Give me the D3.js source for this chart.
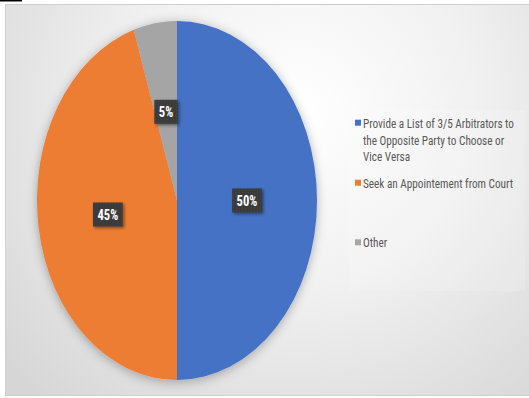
<!DOCTYPE html>
<html>
<head>
<meta charset="utf-8">
<script src="https://cdn.jsdelivr.net/npm/d3@7"></script>
<style>
  html, body { margin: 0; padding: 0; background: #ffffff; }
  svg { display: block; }
</style>
</head>
<body>
<script>
// Survey answers: how the arbitrator gets appointed
const categories = [
  "Provide a List of 3/5 Arbitrators to the Opposite Party to Choose or Vice Versa",
  "Seek an Appointement from Court",
  "Other"
];
const shares = [50, 45, 5];
const legendLines = [
  ["Provide a List of 3/5 Arbitrators to", "the Opposite Party to Choose or", "Vice Versa"],
  ["Seek an Appointement from Court"],
  ["Other"]
];
const colors = ["#4472C4", "#ED7D31", "#A5A5A5"];

const W = 529, H = 398;
const FONT = "'Liberation Sans Narrow', 'Roboto Condensed', 'Roboto', 'Liberation Sans', sans-serif";
const svg = d3.select("body").append("svg").attr("width", W).attr("height", H);
const defs = svg.append("defs");

// panel background: soft radial fade from white to light gray
const bg = defs.append("radialGradient").attr("id", "bgGrad")
  .attr("gradientUnits", "userSpaceOnUse")
  .attr("cx", 300).attr("cy", 110).attr("r", 390);
bg.append("stop").attr("offset", "0%").attr("stop-color", "#ffffff");
bg.append("stop").attr("offset", "45%").attr("stop-color", "#f1f1f1");
bg.append("stop").attr("offset", "100%").attr("stop-color", "#d6d6d6");

const pieShadow = defs.append("filter").attr("id", "pieShadow")
  .attr("x", "-20%").attr("y", "-20%").attr("width", "140%").attr("height", "140%");
pieShadow.append("feDropShadow").attr("dx", 0).attr("dy", 2)
  .attr("stdDeviation", 6).attr("flood-color", "#000").attr("flood-opacity", 0.3);

const boxShadow = defs.append("filter").attr("id", "boxShadow")
  .attr("x", "-40%").attr("y", "-40%").attr("width", "180%").attr("height", "180%");
boxShadow.append("feDropShadow").attr("dx", 1.5).attr("dy", 1.5)
  .attr("stdDeviation", 1.5).attr("flood-color", "#000").attr("flood-opacity", 0.45);

// dotted dark fill for the data label boxes
const dots = defs.append("pattern").attr("id", "dots")
  .attr("patternUnits", "userSpaceOnUse").attr("width", 3).attr("height", 3);
dots.append("rect").attr("width", 3).attr("height", 3).attr("fill", "#3a3a3a");
dots.append("rect").attr("x", 1).attr("y", 1).attr("width", 1).attr("height", 1).attr("fill", "#4a4a4a");

// top-left stub line and framed panel
svg.append("line").attr("x1", 0).attr("x2", 22).attr("y1", 0.5).attr("y2", 0.5)
  .attr("stroke", "#000").attr("stroke-width", 2);
svg.append("rect").attr("x", 5.5).attr("y", 4.5).attr("width", W - 5).attr("height", 391)
  .attr("fill", "url(#bgGrad)").attr("stroke", "#cfcfcf").attr("stroke-width", 1);

// legend backdrop
svg.append("rect").attr("x", 349).attr("y", 110).attr("width", 176).attr("height", 181)
  .attr("fill", "#ffffff").attr("opacity", 0.15);

// elliptical pie: circular arcs stretched horizontally
const cx = 177, cy = 200.5, rx = 140, ry = 179.5;
const pie = d3.pie().sort(null).value(d => d);
const arcs = pie(shares);
const arc = d3.arc().innerRadius(0).outerRadius(ry);

const pieG = svg.append("g")
  .attr("transform", `translate(${cx},${cy}) scale(${rx / ry},1)`)
  .attr("filter", "url(#pieShadow)");
pieG.selectAll("path").data(arcs).join("path")
  .attr("d", arc)
  .attr("fill", (d, i) => colors[i]);

// data labels in dark boxes at the slice centroids
const labelG = svg.append("g");
arcs.forEach((d, i) => {
  const c = arc.centroid(d);
  const x = cx + c[0] * rx / ry, y = cy + c[1];
  const g = labelG.append("g").attr("transform", `translate(${x},${y})`);
  const txt = d.data + "%";
  const t = g.append("text")
    .attr("text-anchor", "middle").attr("dy", "0.36em")
    .attr("font-family", FONT)
    .attr("font-weight", "bold").attr("font-size", 14).attr("fill", "#ffffff")
    .attr("transform", "scale(0.9,1)")
    .text(txt);
  const w = t.node().getComputedTextLength() * 0.9 + 9;
  g.insert("rect", "text")
    .attr("x", -w / 2).attr("y", -12).attr("width", w).attr("height", 24)
    .attr("fill", "url(#dots)").attr("filter", "url(#boxShadow)");
});

// legend; glyphs are narrowed so the longest line spans the legend column
const lineY = [[122.7, 139.7, 156.3], [182.7], [242.3]];
const legSize = 13.5;
const leg = svg.append("g");
const probe = leg.append("text").attr("font-family", FONT).attr("font-size", legSize)
  .text(legendLines[0][0]);
const squeeze = Math.min(1, 151 / probe.node().getComputedTextLength());
probe.remove();

legendLines.forEach((lines, i) => {
  leg.append("rect").attr("x", 355).attr("y", lineY[i][0] - 3).attr("width", 6).attr("height", 6)
    .attr("fill", colors[i]);
  lines.forEach((ln, j) => {
    leg.append("g").attr("transform", `translate(363,${lineY[i][j]}) scale(${squeeze},1)`)
      .append("text").attr("dy", "0.36em")
      .attr("font-family", FONT)
      .attr("font-size", legSize).attr("fill", "#595959")
      .text(ln);
  });
});
</script>
</body>
</html>
